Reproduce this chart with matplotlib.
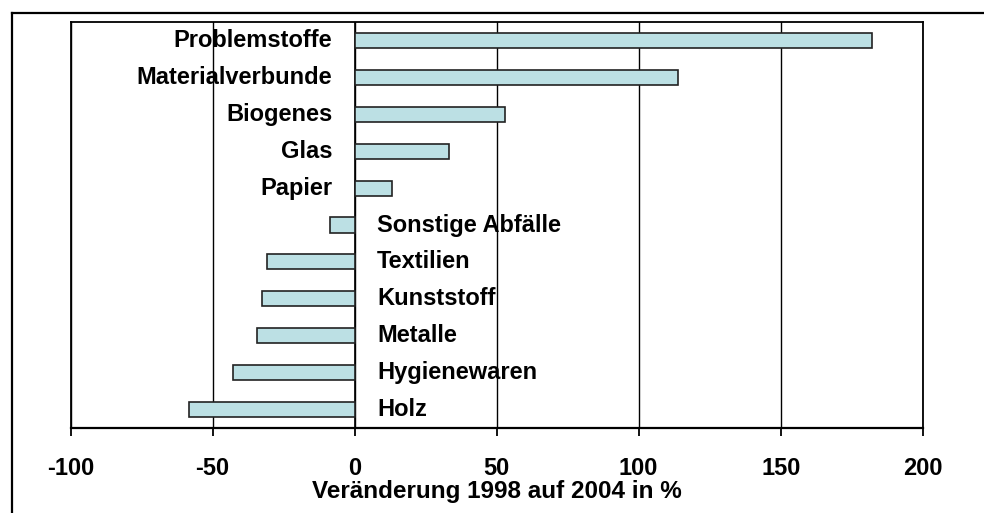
import numpy as np
import matplotlib.pyplot as plt
from matplotlib.lines import Line2D

plt.rcParams['font.family'] = ['Liberation Sans', 'DejaVu Sans']
plt.rcParams['font.weight'] = 'bold'
plt.rcParams['axes.unicode_minus'] = False

# Abfallfraktionen, Veränderung 1998 -> 2004 in %
kategorien = ['Problemstoffe', 'Materialverbunde', 'Biogenes', 'Glas', 'Papier',
              'Sonstige Abfälle', 'Textilien', 'Kunststoff', 'Metalle',
              'Hygienewaren', 'Holz']
werte = [182, 113.7, 52.8, 33.2, 13.0, -8.8, -30.8, -32.7, -34.4, -42.7, -58.2]
x_ticks = [-100, -50, 0, 50, 100, 150, 200]

fig = plt.figure(figsize=(9.84, 5.13), dpi=100)
ax = fig.add_axes([0.0718, 0.1657, 0.8659, 0.7914])

y = np.arange(len(kategorien))
ax.barh(y, werte, height=0.41, color='#BCE0E4', edgecolor='#222222',
        linewidth=1.2, zorder=3)

# Beschriftung neben der Nulllinie, je nach Vorzeichen links oder rechts
for yi, name, v in zip(y, kategorien, werte):
    if v >= 0:
        ax.annotate(name, (0, yi), xytext=(-16, 0), textcoords='offset points',
                    ha='right', va='center', fontsize=17, fontweight='bold', zorder=4)
    else:
        ax.annotate(name, (0, yi), xytext=(16, 0), textcoords='offset points',
                    ha='left', va='center', fontsize=17, fontweight='bold', zorder=4)

ax.set_xlim(-100, 200)
ax.set_ylim(len(kategorien) - 0.5, -0.5)
ax.set_xticks(x_ticks)
ax.set_yticks([])
ax.xaxis.grid(True, color='black', linewidth=1.0, zorder=1)
ax.axvline(0, color='black', linewidth=1.2, zorder=2)

for s in ax.spines.values():
    s.set_linewidth(1.3)
ax.spines['bottom'].set_linewidth(1.6)
ax.tick_params(axis='x', direction='out', length=6, width=1.3, pad=15,
               labelsize=17)
for lbl in ax.get_xticklabels():
    lbl.set_fontweight('bold')
ax.set_xlabel('Veränderung 1998 auf 2004 in %', fontsize=17.5, fontweight='bold',
              labelpad=0)

# Rahmen oben und links um die Grafik
fig.add_artist(Line2D([12 / 984, 12 / 984], [0, 1 - 12.7 / 513],
                      transform=fig.transFigure, color='black', linewidth=1.6))
fig.add_artist(Line2D([12 / 984, 1], [1 - 12.7 / 513, 1 - 12.7 / 513],
                      transform=fig.transFigure, color='black', linewidth=1.6))

fig.savefig('out.png', dpi=100)
